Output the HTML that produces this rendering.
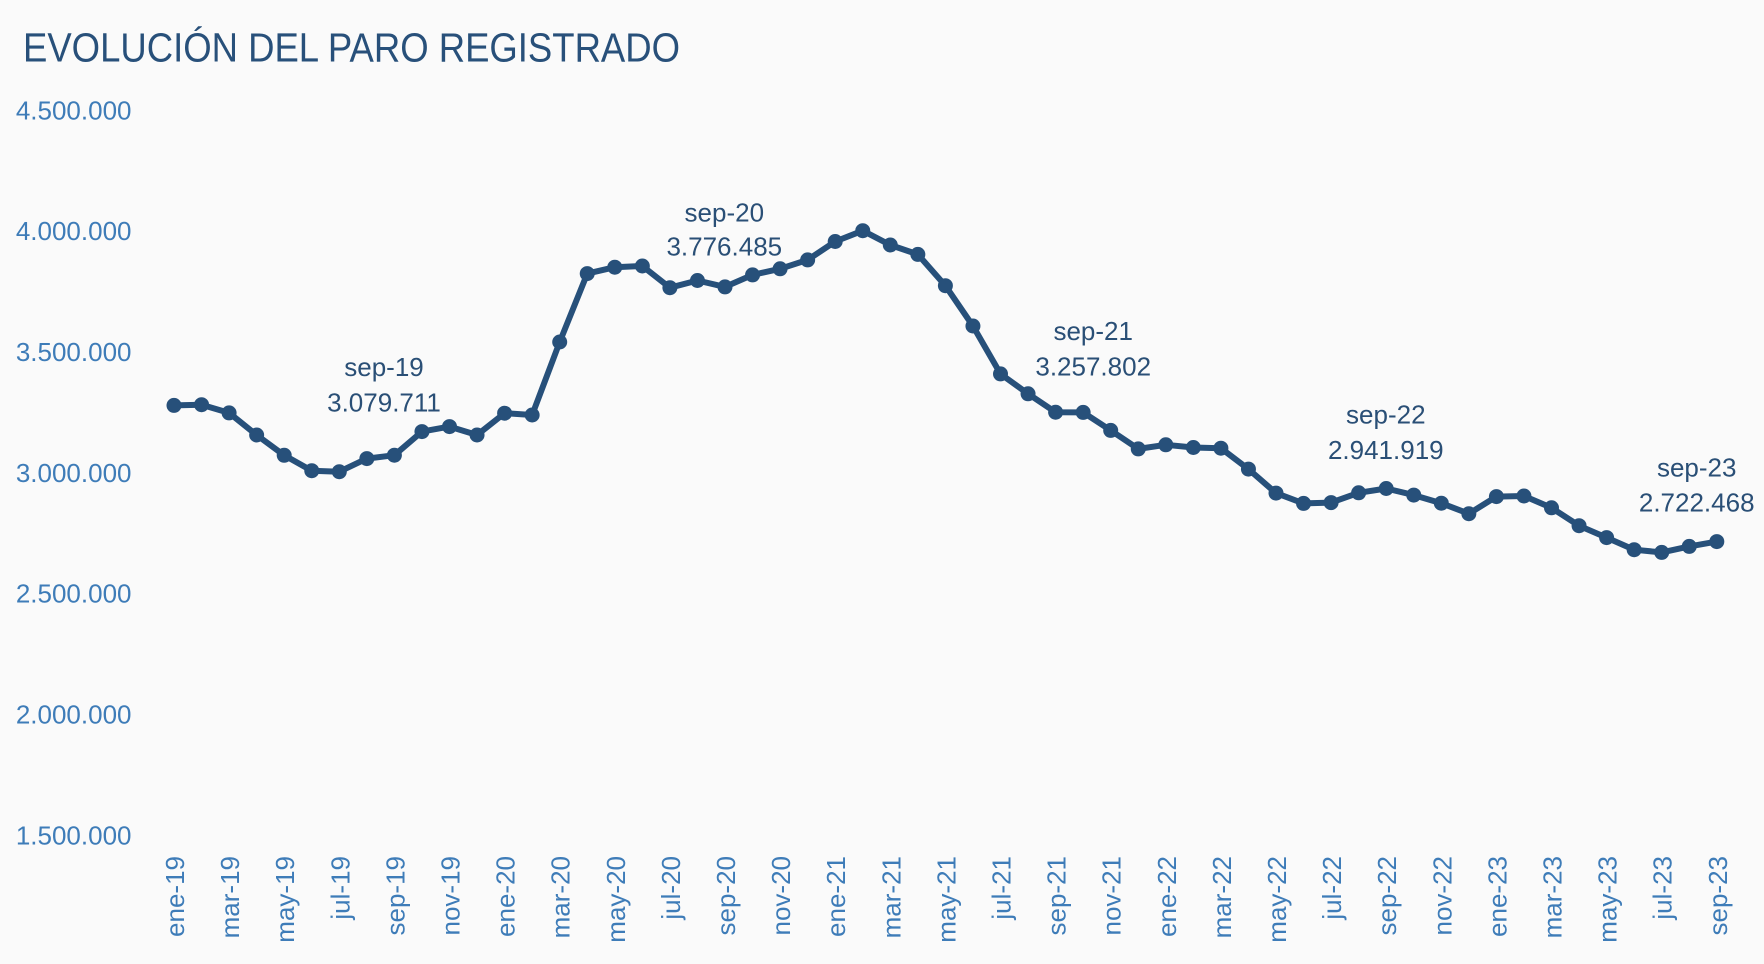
<!DOCTYPE html>
<html>
<head>
<meta charset="utf-8">
<style>
  html, body { margin: 0; padding: 0; background: #fafafa; }
  svg { display: block; }
  text { font-family: "Liberation Sans", "DejaVu Sans", sans-serif; }
</style>
</head>
<body>
<svg width="1764" height="964" viewBox="0 0 1764 964" xmlns="http://www.w3.org/2000/svg">
  <rect x="0" y="0" width="1764" height="964" fill="#fafafa"/>

  <!-- Title -->
  <text x="23" y="61.7" font-size="41" fill="#28507a" textLength="657" lengthAdjust="spacingAndGlyphs">EVOLUCIÓN DEL PARO REGISTRADO</text>

  <!-- Y axis labels -->
  <g font-size="26" fill="#3e7cb8" text-anchor="end">
    <text x="131.5" y="119.3">4.500.000</text>
    <text x="131.5" y="240.1">4.000.000</text>
    <text x="131.5" y="361.0">3.500.000</text>
    <text x="131.5" y="481.8">3.000.000</text>
    <text x="131.5" y="602.6">2.500.000</text>
    <text x="131.5" y="723.5">2.000.000</text>
    <text x="131.5" y="844.3">1.500.000</text>
  </g>

  <!-- X axis labels -->
  <g font-size="26" fill="#3e7cb8" text-anchor="end">
    <text transform="translate(184,856) rotate(-90)">ene-19</text>
    <text transform="translate(239.1,856) rotate(-90)">mar-19</text>
    <text transform="translate(294.2,856) rotate(-90)">may-19</text>
    <text transform="translate(349.3,856) rotate(-90)">jul-19</text>
    <text transform="translate(404.4,856) rotate(-90)">sep-19</text>
    <text transform="translate(459.5,856) rotate(-90)">nov-19</text>
    <text transform="translate(514.6,856) rotate(-90)">ene-20</text>
    <text transform="translate(569.7,856) rotate(-90)">mar-20</text>
    <text transform="translate(624.8,856) rotate(-90)">may-20</text>
    <text transform="translate(679.9,856) rotate(-90)">jul-20</text>
    <text transform="translate(735,856) rotate(-90)">sep-20</text>
    <text transform="translate(790.1,856) rotate(-90)">nov-20</text>
    <text transform="translate(845.2,856) rotate(-90)">ene-21</text>
    <text transform="translate(900.3,856) rotate(-90)">mar-21</text>
    <text transform="translate(955.4,856) rotate(-90)">may-21</text>
    <text transform="translate(1010.5,856) rotate(-90)">jul-21</text>
    <text transform="translate(1065.6,856) rotate(-90)">sep-21</text>
    <text transform="translate(1120.7,856) rotate(-90)">nov-21</text>
    <text transform="translate(1175.8,856) rotate(-90)">ene-22</text>
    <text transform="translate(1230.9,856) rotate(-90)">mar-22</text>
    <text transform="translate(1286,856) rotate(-90)">may-22</text>
    <text transform="translate(1341.1,856) rotate(-90)">jul-22</text>
    <text transform="translate(1396.2,856) rotate(-90)">sep-22</text>
    <text transform="translate(1451.3,856) rotate(-90)">nov-22</text>
    <text transform="translate(1506.4,856) rotate(-90)">ene-23</text>
    <text transform="translate(1561.5,856) rotate(-90)">mar-23</text>
    <text transform="translate(1616.6,856) rotate(-90)">may-23</text>
    <text transform="translate(1671.7,856) rotate(-90)">jul-23</text>
    <text transform="translate(1726.8,856) rotate(-90)">sep-23</text>
  </g>

  <!-- Series line -->
  <polyline fill="none" stroke="#27507a" stroke-width="6" stroke-linejoin="round" stroke-linecap="round"
    points="174,405.4 201.55,404.7 229.1,412.9 256.65,435.0 284.2,455.3 311.75,470.7 339.3,471.7 366.85,458.6 394.4,455.2 421.95,431.6 449.5,426.6 477.05,435.0 504.6,413.2 532.15,415.0 559.7,342.0 587.25,273.6 614.8,267.2 642.35,266.0 669.9,287.7 697.45,280.5 725,286.9 752.55,274.9 780.1,268.8 807.65,259.9 835.2,241.5 862.75,230.7 890.3,245.0 917.85,254.4 945.4,285.7 972.95,326.0 1000.5,373.9 1028.05,393.8 1055.6,412.2 1083.15,412.4 1110.7,430.4 1138.25,448.9 1165.8,444.8 1193.35,447.5 1220.9,448.2 1248.45,469.1 1276,493.1 1303.55,503.4 1331.1,502.6 1358.65,492.8 1386.2,488.5 1413.75,495.1 1441.3,503.2 1468.85,513.7 1496.4,496.6 1523.95,496.0 1551.5,507.8 1579.05,525.7 1606.6,537.6 1634.15,549.7 1661.7,552.4 1689.25,546.4 1716.8,541.6"/>

  <!-- Markers -->
  <g fill="#27507a">
    <circle cx="174" cy="405.4" r="7.5"/>
    <circle cx="201.55" cy="404.7" r="7.5"/>
    <circle cx="229.1" cy="412.9" r="7.5"/>
    <circle cx="256.65" cy="435.0" r="7.5"/>
    <circle cx="284.2" cy="455.3" r="7.5"/>
    <circle cx="311.75" cy="470.7" r="7.5"/>
    <circle cx="339.3" cy="471.7" r="7.5"/>
    <circle cx="366.85" cy="458.6" r="7.5"/>
    <circle cx="394.4" cy="455.2" r="7.5"/>
    <circle cx="421.95" cy="431.6" r="7.5"/>
    <circle cx="449.5" cy="426.6" r="7.5"/>
    <circle cx="477.05" cy="435.0" r="7.5"/>
    <circle cx="504.6" cy="413.2" r="7.5"/>
    <circle cx="532.15" cy="415.0" r="7.5"/>
    <circle cx="559.7" cy="342.0" r="7.5"/>
    <circle cx="587.25" cy="273.6" r="7.5"/>
    <circle cx="614.8" cy="267.2" r="7.5"/>
    <circle cx="642.35" cy="266.0" r="7.5"/>
    <circle cx="669.9" cy="287.7" r="7.5"/>
    <circle cx="697.45" cy="280.5" r="7.5"/>
    <circle cx="725" cy="286.9" r="7.5"/>
    <circle cx="752.55" cy="274.9" r="7.5"/>
    <circle cx="780.1" cy="268.8" r="7.5"/>
    <circle cx="807.65" cy="259.9" r="7.5"/>
    <circle cx="835.2" cy="241.5" r="7.5"/>
    <circle cx="862.75" cy="230.7" r="7.5"/>
    <circle cx="890.3" cy="245.0" r="7.5"/>
    <circle cx="917.85" cy="254.4" r="7.5"/>
    <circle cx="945.4" cy="285.7" r="7.5"/>
    <circle cx="972.95" cy="326.0" r="7.5"/>
    <circle cx="1000.5" cy="373.9" r="7.5"/>
    <circle cx="1028.05" cy="393.8" r="7.5"/>
    <circle cx="1055.6" cy="412.2" r="7.5"/>
    <circle cx="1083.15" cy="412.4" r="7.5"/>
    <circle cx="1110.7" cy="430.4" r="7.5"/>
    <circle cx="1138.25" cy="448.9" r="7.5"/>
    <circle cx="1165.8" cy="444.8" r="7.5"/>
    <circle cx="1193.35" cy="447.5" r="7.5"/>
    <circle cx="1220.9" cy="448.2" r="7.5"/>
    <circle cx="1248.45" cy="469.1" r="7.5"/>
    <circle cx="1276" cy="493.1" r="7.5"/>
    <circle cx="1303.55" cy="503.4" r="7.5"/>
    <circle cx="1331.1" cy="502.6" r="7.5"/>
    <circle cx="1358.65" cy="492.8" r="7.5"/>
    <circle cx="1386.2" cy="488.5" r="7.5"/>
    <circle cx="1413.75" cy="495.1" r="7.5"/>
    <circle cx="1441.3" cy="503.2" r="7.5"/>
    <circle cx="1468.85" cy="513.7" r="7.5"/>
    <circle cx="1496.4" cy="496.6" r="7.5"/>
    <circle cx="1523.95" cy="496.0" r="7.5"/>
    <circle cx="1551.5" cy="507.8" r="7.5"/>
    <circle cx="1579.05" cy="525.7" r="7.5"/>
    <circle cx="1606.6" cy="537.6" r="7.5"/>
    <circle cx="1634.15" cy="549.7" r="7.5"/>
    <circle cx="1661.7" cy="552.4" r="7.5"/>
    <circle cx="1689.25" cy="546.4" r="7.5"/>
    <circle cx="1716.8" cy="541.6" r="7.5"/>
  </g>

  <!-- Data labels -->
  <g font-size="26" fill="#2a4f76" text-anchor="middle">
    <text x="384" y="376">sep-19</text>
    <text x="384" y="411.7">3.079.711</text>

    <text x="724.3" y="221.7">sep-20</text>
    <text x="724.3" y="255.7">3.776.485</text>

    <text x="1093.2" y="340">sep-21</text>
    <text x="1093.2" y="375.7">3.257.802</text>

    <text x="1385.8" y="423.3">sep-22</text>
    <text x="1385.8" y="459">2.941.919</text>

    <text x="1696.7" y="476.7">sep-23</text>
    <text x="1696.7" y="511.7">2.722.468</text>
  </g>
</svg>
</body>
</html>
